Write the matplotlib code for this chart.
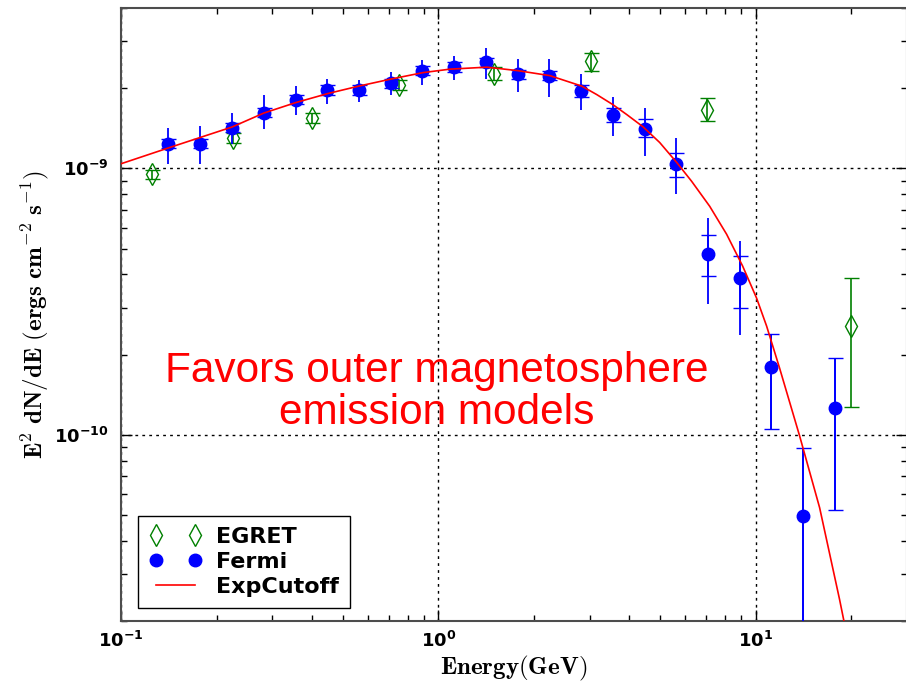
#Script to plot the Vela pulsar spectrum: Fermi points, EGRET points
#and the exponential cutoff fit

import matplotlib
matplotlib.use('Agg')
import matplotlib.pyplot as plt
from matplotlib.lines import Line2D
from matplotlib.ticker import FuncFormatter
import numpy as np

#Fermi points (GeV, ergs cm^-2 s^-1)
fermi_e = [0.141, 0.178, 0.224, 0.282, 0.355, 0.447, 0.562, 0.708, 0.891, 1.12, 1.41,
           1.78, 2.24, 2.82, 3.55, 4.47, 5.62, 7.08, 8.91, 11.2, 14.1, 17.8]
fermi_f = [1.24e-9, 1.24e-9, 1.42e-9, 1.62e-9, 1.81e-9, 1.97e-9, 1.97e-9, 2.09e-9, 2.33e-9,
           2.40e-9, 2.50e-9, 2.26e-9, 2.23e-9, 1.96e-9, 1.59e-9, 1.41e-9, 1.04e-9,
           4.76e-10, 3.87e-10, 1.79e-10, 4.94e-11, 1.26e-10]
#total (systematic) range, no caps
fermi_hi = [1.42e-9, 1.44e-9, 1.62e-9, 1.88e-9, 2.03e-9, 2.17e-9, 2.14e-9, 2.31e-9, 2.56e-9,
            2.65e-9, 2.84e-9, 2.58e-9, 2.58e-9, 2.27e-9, 1.85e-9, 1.69e-9, 1.30e-9,
            6.50e-10, 5.33e-10, 2.39e-10, 8.91e-11, 1.94e-10]
fermi_lo = [1.04e-9, 1.04e-9, 1.24e-9, 1.40e-9, 1.59e-9, 1.75e-9, 1.78e-9, 1.88e-9, 2.05e-9,
            2.14e-9, 2.16e-9, 1.94e-9, 1.86e-9, 1.65e-9, 1.32e-9, 1.11e-9, 8.0e-10,
            3.09e-10, 2.37e-10, 1.05e-10, 1e-12, 5.21e-11]
#statistical range, with caps
fermi_shi = [1.29e-9, 1.29e-9, 1.48e-9, 1.69e-9, 1.88e-9, 2.05e-9, 2.05e-9, 2.17e-9, 2.42e-9,
             2.50e-9, 2.60e-9, 2.35e-9, 2.32e-9, 2.06e-9, 1.69e-9, 1.53e-9, 1.14e-9,
             5.61e-10, 4.68e-10, 2.39e-10, 8.91e-11, 1.94e-10]
fermi_slo = [1.19e-9, 1.19e-9, 1.37e-9, 1.56e-9, 1.74e-9, 1.89e-9, 1.89e-9, 2.01e-9, 2.24e-9,
             2.31e-9, 2.40e-9, 2.17e-9, 2.14e-9, 1.85e-9, 1.49e-9, 1.31e-9, 9.25e-10,
             3.94e-10, 2.99e-10, 1.05e-10, 1e-12, 5.21e-11]

#EGRET points
egret_e = [0.125, 0.225, 0.40, 0.75, 1.50, 3.02, 7.01, 20.0]
egret_f = [9.5e-10, 1.30e-9, 1.54e-9, 2.06e-9, 2.27e-9, 2.52e-9, 1.66e-9, 2.56e-10]
egret_hi = [9.9e-10, 1.36e-9, 1.61e-9, 2.15e-9, 2.40e-9, 2.72e-9, 1.83e-9, 3.87e-10]
egret_lo = [9.1e-10, 1.25e-9, 1.48e-9, 1.97e-9, 2.15e-9, 2.33e-9, 1.50e-9, 1.27e-10]

#ExpCutoff model
fit_e = [0.100, 0.1426, 0.2237, 0.2821, 0.3557, 0.4487, 0.5618, 0.7085, 0.8937, 1.087,
         1.421, 1.780, 2.245, 2.831, 3.157, 3.545, 3.924, 4.407, 4.985, 5.639, 6.288,
         7.165, 8.103, 9.101, 10.07, 10.83, 11.90, 13.76, 15.91, 18.39, 19.78]
fit_f = [1.041e-9, 1.199e-9, 1.430e-9, 1.614e-9, 1.767e-9, 1.910e-9, 2.037e-9, 2.164e-9,
         2.288e-9, 2.358e-9, 2.399e-9, 2.328e-9, 2.230e-9, 2.037e-9, 1.893e-9, 1.737e-9,
         1.593e-9, 1.436e-9, 1.251e-9, 1.053e-9, 8.94e-10, 7.21e-10, 5.66e-10, 4.30e-10,
         3.26e-10, 2.56e-10, 1.78e-10, 9.91e-11, 5.33e-11, 2.41e-11, 1.57e-11]

xticks = [0.1, 1, 10]
yticks = [1e-10, 1e-9]

def bars(f, lo, hi):
    f, lo, hi = np.array(f), np.array(lo), np.array(hi)
    return [f - lo, hi - f]

fig = plt.figure(figsize=(9.06, 6.85), dpi=100)
ax = fig.add_axes([0.1336, 0.0934, 0.8675, 0.8949])
ax.set_xscale('log')
ax.set_yscale('log')

ax.errorbar(egret_e, egret_f, yerr=bars(egret_f, egret_lo, egret_hi), fmt='d', color='green',
            mfc='none', mec='green', ms=11, mew=1, elinewidth=1.2, capsize=5.4, zorder=3)
ax.errorbar(fermi_e, fermi_f, yerr=bars(fermi_f, fermi_lo, fermi_hi), fmt='none',
            ecolor='blue', elinewidth=1.3, capsize=0, zorder=4)
ax.errorbar(fermi_e, fermi_f, yerr=bars(fermi_f, fermi_slo, fermi_shi), fmt='o', color='blue',
            ms=9, elinewidth=1.3, capsize=5.4, zorder=4)
ax.plot(fit_e, fit_f, color='red', lw=1.2, zorder=5)

ax.set_xlim(0.1, 30)
ax.set_ylim(2e-11, 4e-9)

ax.set_xticks(xticks)
ax.set_yticks(yticks)
fmt = FuncFormatter(lambda v, p: r'$\mathbf{10^{%d}}$' % int(round(np.log10(v))))
ax.xaxis.set_major_formatter(fmt)
ax.yaxis.set_major_formatter(fmt)
ax.tick_params(which='both', direction='in', top=True, right=True, labelsize=13)
ax.tick_params(which='major', length=8, width=1)
ax.tick_params(which='minor', length=4, width=1)
ax.tick_params(axis='y', pad=9)
ax.tick_params(axis='x', pad=7)
for s in ax.spines.values():
    s.set_color('0.3')
    s.set_linewidth(1.5)

ax.grid(True, which='major', color='black', linestyle=(0, (2, 3)), lw=1)

ax.set_xlabel(r'$\mathbf{Energy (GeV)}$', fontsize=18, math_fontfamily='cm', labelpad=2)
ax.set_ylabel(r'$\mathbf{E^2\ dN/dE\ (ergs\ cm^{-2}\ s^{-1})}$', fontsize=18,
              math_fontfamily='cm', labelpad=1)

ax.text(0.402, 0.374, 'Favors outer magnetosphere\nemission models', transform=ax.transAxes,
        ha='center', va='center', color='red', fontsize=30.5, family='Liberation Sans',
        linespacing=1.05)

handles = [Line2D([], [], ls='none', marker='d', ms=11, mfc='none', mec='green', mew=1),
           Line2D([], [], ls='none', marker='o', ms=9, color='blue'),
           Line2D([], [], color='red', lw=1.2)]
leg = ax.legend(handles, ['EGRET', 'Fermi', 'ExpCutoff'], loc='lower left',
                bbox_to_anchor=(17 / 786, 13 / 613), borderaxespad=0, numpoints=2,
                fancybox=False, framealpha=1, prop={'weight': 'bold', 'size': 16},
                handlelength=2.36, handletextpad=0.66, labelspacing=0.22, borderpad=0.5)
leg.get_frame().set_edgecolor('black')
leg.get_frame().set_linewidth(1.0)

plt.savefig('out.png', dpi=100)
